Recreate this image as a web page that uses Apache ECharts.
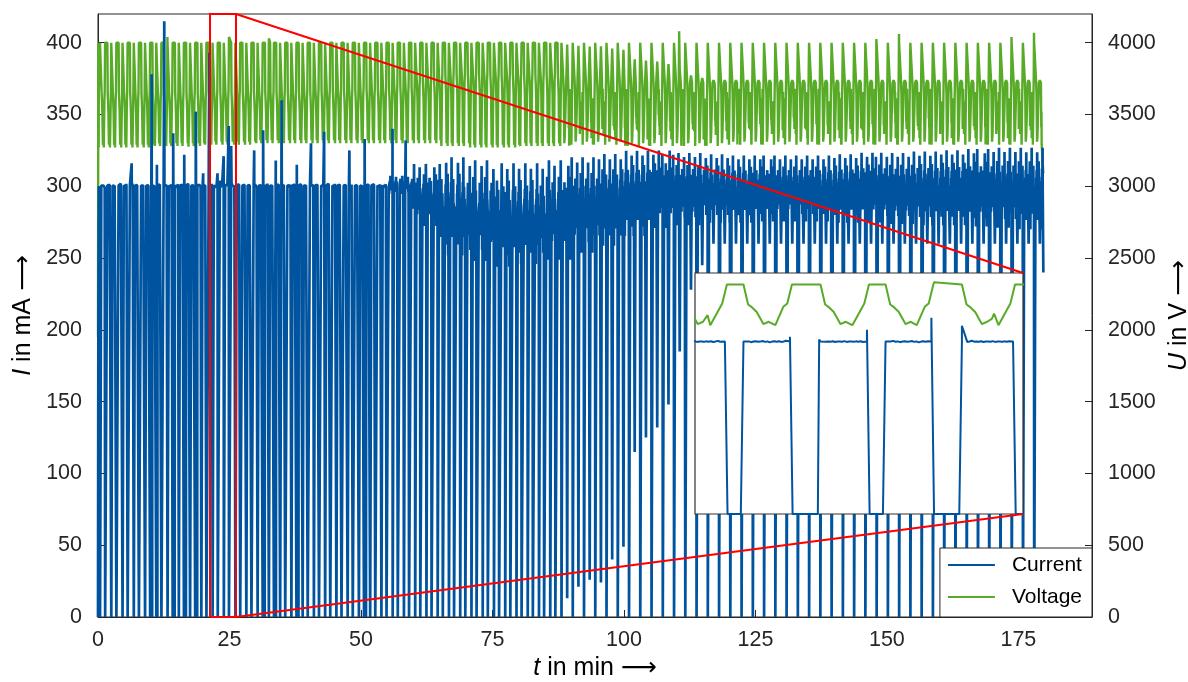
<!DOCTYPE html>
<html>
<head>
<meta charset="utf-8">
<script src="https://cdn.jsdelivr.net/npm/echarts@6/dist/echarts.min.js"></script>
<style>
html,body{margin:0;padding:0;background:#fff;}
#chart{width:1188px;height:682px;}
</style>
</head>
<body>
<div id="chart"></div>
<script>
// ---------------- values ----------------
const xTicks = [0, 25, 50, 75, 100, 125, 150, 175];
const iTicks = [0, 50, 100, 150, 200, 250, 300, 350, 400];
const uTicks = [0, 500, 1000, 1500, 2000, 2500, 3000, 3500, 4000];
const xMax = 189, iMax = 420, uMax = 4200;
const zoomT = [21.3, 26.24];          // time window shown in the inset (min)
const dataEnd = 179.7;

// current switch-off dips, type A (short) and type B (long): start times in min
const dipA = [0.35, 2.49, 4.63, 6.77, 8.91, 11.05, 13.19, 15.33, 17.47, 19.61,
  21.75, 23.89, 26.09, 28.17, 30.31, 32.45, 34.59, 36.73, 38.87, 41.01,
  43.15, 45.29, 47.43, 49.57, 51.71, 53.85, 55.99, 58.13, 60.27, 62.41,
  64.55, 66.69, 68.83, 70.97, 73.11, 75.25, 77.39, 79.53, 81.67, 83.81,
  85.95, 88.09, 90.23, 92.37, 94.51, 96.65, 98.79, 100.93, 103.07, 105.21,
  107.35, 109.49, 111.63, 113.77, 115.91, 118.05, 120.19, 122.33, 124.47, 126.61,
  128.75, 130.89, 133.03, 135.17, 137.31, 139.45, 141.59, 143.73, 145.87, 148.01,
  150.15, 152.29, 154.43, 156.57, 158.71, 160.85, 162.99, 165.13, 167.27, 169.41,
  171.55, 173.69, 175.83, 177.97];
const dipB = [1.32, 3.46, 5.6, 7.74, 9.88, 12.02, 14.16, 16.3, 18.44, 20.58,
  22.73, 24.86, 27.0, 29.14, 31.28, 33.42, 35.56, 37.7, 39.84, 41.98,
  44.12, 46.26, 48.4, 50.54, 52.68, 54.82, 56.96, 59.1, 61.24, 63.38,
  65.52, 67.66, 69.8, 71.94, 74.08, 76.22, 78.36, 80.5, 82.64, 84.78,
  86.92, 89.06, 91.2, 93.34, 95.48, 97.62, 99.76, 101.9, 104.04, 106.18,
  108.32, 110.46, 112.6, 114.74, 116.88, 119.02, 121.16, 123.3, 125.44, 127.58,
  129.72, 131.86, 134.0, 136.14, 138.28, 140.42, 142.56, 144.7, 146.84, 148.98,
  151.12, 153.26, 155.4, 157.54, 159.68, 161.82, 163.96, 166.1, 168.24, 170.38,
  172.52, 174.66, 176.8, 178.94];
// lowest current reached in each B dip (mA), 0 = full switch-off
const dipBMin = [0, 0, 0, 0, 0, 0, 0, 0, 0, 0,
  0, 0, 0, 0, 0, 0, 0, 0, 0, 0,
  0, 0, 0, 0, 0, 0, 0, 0, 0, 0,
  0, 0, 0, 0, 0, 0, 0, 0, 0, 0,
  0, 13, 21, 26, 24, 40, 49, 115, 125, 132,
  148, 185, 228, 245, 260, 260, 260, 260, 260, 260,
  260, 260, 260, 260, 260, 260, 260, 260, 260, 260,
  260, 260, 260, 260, 260, 260, 260, 260, 260, 260,
  260, 260, 260, 260];
const lenA = 0.28, lenB = 0.46, lenPartial = 0.3;   // dip durations (min)

// 5-minute bins: extent of the current plateau and of the voltage between pulses
const binStart = [0, 5, 10, 15, 20, 25, 30, 35, 40, 45, 50, 55, 60, 65, 70, 75, 80, 85,
  90, 95, 100, 105, 110, 115, 120, 125, 130, 135, 140, 145, 150, 155, 160, 165, 170, 175];
const iLo = [299, 299, 299, 299, 299, 299, 299, 299, 299, 299, 299, 294, 270, 248, 244, 240, 242, 245,
  250, 255, 262, 268, 270, 272, 272, 273, 273, 273, 272, 272, 271, 270, 270, 269, 268, 267];
const iHi = [302, 302, 302, 302, 302, 302, 302, 302, 302, 302, 302, 308, 318, 324, 322, 320, 320, 322,
  324, 326, 328, 328, 326, 325, 324, 324, 324, 324, 325, 326, 326, 327, 328, 329, 330, 330];
const uLo = [3250, 3250, 3260, 3260, 3270, 3270, 3280, 3280, 3280, 3280, 3280, 3280, 3280, 3260, 3250, 3250, 3260, 3260,
  3270, 3270, 3260, 3260, 3260, 3260, 3270, 3270, 3270, 3270, 3270, 3270, 3270, 3270, 3270, 3270, 3270, 3270];
const uHi = [3570, 3570, 3570, 3570, 3580, 3580, 3580, 3580, 3590, 3590, 3600, 3620, 3660, 3700, 3700, 3700, 3700, 3700,
  3700, 3700, 3700, 3700, 3700, 3700, 3700, 3700, 3700, 3700, 3700, 3700, 3700, 3700, 3700, 3700, 3700, 3700];

// isolated current spikes (min, mA)
const spikeT = [6.4, 10.2, 11.2, 12.6, 14.3, 16.4, 18.6, 20.0, 21.17, 22.73, 23.17, 23.89, 24.86, 25.32,
  29.7, 31.4, 33.8, 34.9, 37.8, 40.5, 43.0, 47.8, 50.7, 56.0, 58.5];
const spikeI = [316, 378, 315, 415, 337, 322, 352, 309, 393, 309, 304, 321, 342, 328,
  325, 339, 318, 360, 315, 330, 338, 325, 333, 340, 332];
// voltage overshoots above 4000 V
const peakT = [13.2, 24.9, 32.5, 110.5, 148.0, 152.3, 173.7, 177.97];
const peakU = [4040, 4040, 4030, 4080, 4025, 4060, 4040, 4070];
// switch-on and end of the record
const startT = [0, 0.06, 0.15], startI = [0, 188, 300], startU = [1950, 4000, 3650];
const tailT = [179.75], tailI = [240], tailU = [3090];
// fluctuation pattern inside the bands (fraction of the band extent)
const pat = [0.5, 0.35, 0.62, 0.44, 0.7, 0.28, 0.55, 0.9, 0.4, 0.6, 0.15, 0.52, 0.66, 0.38, 0.47, 0.8, 0.33, 0.58,
  0.05, 0.49, 0.63, 0.42, 0.72, 0.3, 0.54, 0.95, 0.45, 0.6, 0.36, 0.68, 0.22, 0.5, 0.57, 0.4, 0.75, 0.31, 0.53];

// ---------------- build the series ----------------
function binOf(t) {
  let b = 0;
  for (let k = 0; k < binStart.length; k++) if (binStart[k] <= t) b = k;
  return b;
}
const dips = [];
dipA.forEach(t => dips.push({ s: t, L: lenA, m: 0, type: 'A' }));
dipB.forEach((t, k) => dips.push({ s: t, L: dipBMin[k] > 0 ? lenPartial : lenB, m: dipBMin[k], type: 'B' }));
dips.sort((a, b) => a.s - b.s);
const cur = [], volt = [];
startT.forEach((t, k) => { cur.push([t, startI[k]]); volt.push([t, startU[k]]); });
let pc = 0, pv = 11;
const P = pat.length, STEP = 0.035;
function fillPlateau(from, to, vFrom, vTo) {
  for (let t = from; t < to; t += STEP) { const b = binOf(t); cur.push([t, iLo[b] + (iHi[b] - iLo[b]) * pat[pc++ % P]]); }
  for (let t = vFrom; t < vTo; t += STEP) { const b = binOf(t); volt.push([t, uLo[b] + (uHi[b] - uLo[b]) * pat[pv++ % P]]); }
}
fillPlateau(0.25, dips[0].s - 0.05, 0.5, dips[0].s - 0.25);
for (let j = 0; j < dips.length; j++) {
  const d = dips[j], s = d.s, e = s + d.L, b = binOf(s);
  const lvl = (iLo[b] + iHi[b]) / 2, lo = uLo[b], hi = uHi[b];
  let vStart;
  if (d.m === 0) {
    cur.push([s, lvl], [s + 0.04, 0], [e - 0.04, 0], [e, lvl]);
    volt.push([s - 0.22, lo + 20]);
    if (d.type === 'B') volt.push([s - 0.1, hi + 30]);
    volt.push([s - 0.04, hi + 90], [s + 0.03, 4000], [e, 4000], [e + 0.07, hi + 70],
      [e + 0.13, hi + 20], [e + 0.2, hi - 60], [e + 0.3, lo + 40], [e + 0.38, lo + 80]);
    vStart = e + 0.45;
  } else {
    cur.push([s, lvl], [s + d.L / 2, d.m], [e, lvl]);
    const pk = hi + (4000 - hi) * (1 - d.m / 300);
    volt.push([s - 0.04, hi + 20], [s + d.L / 2, pk], [e + 0.05, hi + 20]);
    vStart = e + 0.12;
  }
  const next = j + 1 < dips.length ? dips[j + 1].s : dataEnd;
  fillPlateau(e + 0.08, next - 0.04, vStart, next - 0.25);
}
tailT.forEach((t, k) => { cur.push([t, tailI[k]]); volt.push([t, tailU[k]]); });
spikeT.forEach((t, k) => cur.push([t, spikeI[k]]));
peakT.forEach((t, k) => volt.push([t, peakU[k]]));
cur.sort((a, b) => a[0] - b[0]);
volt.sort((a, b) => a[0] - b[0]);

// ---------------- chart ----------------
const FONT = '"Liberation Sans", Arial, "DejaVu Sans", sans-serif';
const INK = '#262626';
const BLUE = '#00549F', GREEN = '#57AB27', RED = '#FF0000';
const chart = echarts.init(document.getElementById('chart'));
const nameStyle = { fontSize: 25, color: '#000', fontFamily: FONT,
  rich: { it: { fontStyle: 'italic', fontSize: 25, color: '#000', fontFamily: FONT } } };
const labelStyle = { fontSize: 21.5, color: INK, fontFamily: FONT };
const option = {
  animation: false,
  grid: [
    { left: 98, right: 96, top: 14, bottom: 65, show: true, borderColor: INK, borderWidth: 1,
      backgroundColor: 'transparent', z: 0, outerBoundsMode: 'none', containLabel: false },
    { left: 695, top: 273, width: 328, height: 241, show: true, borderColor: '#333', borderWidth: 1.2,
      backgroundColor: '#fff', z: 5, outerBoundsMode: 'none', containLabel: false }
  ],
  xAxis: [
    { type: 'value', gridIndex: 0, min: 0, max: xMax, interval: 25,
      axisLine: { show: true, lineStyle: { color: INK, width: 1 } },
      axisTick: { show: true, inside: true, length: 7, lineStyle: { color: INK } },
      axisLabel: { ...labelStyle, margin: 12, showMaxLabel: false, formatter: v => xTicks.includes(v) ? String(v) : '' },
      splitLine: { show: false },
      name: '{it|t} in min ⟶', nameLocation: 'middle', nameGap: 35, nameTextStyle: nameStyle },
    { type: 'value', gridIndex: 1, min: zoomT[0], max: zoomT[1], show: false, splitLine: { show: false } }
  ],
  yAxis: [
    { type: 'value', gridIndex: 0, min: 0, max: iMax, interval: 50, position: 'left',
      axisLine: { show: true, lineStyle: { color: INK, width: 1 } },
      axisTick: { show: true, inside: true, length: 7, lineStyle: { color: INK } },
      axisLabel: { ...labelStyle, margin: 16, showMaxLabel: false, formatter: v => iTicks.includes(v) ? String(v) : '' },
      splitLine: { show: false },
      name: '{it|I} in mA ⟶', nameLocation: 'middle', nameGap: 55, nameRotate: 90, nameTextStyle: nameStyle },
    { type: 'value', gridIndex: 0, min: 0, max: uMax, interval: 500, position: 'right',
      axisLine: { show: true, lineStyle: { color: INK, width: 1 } },
      axisTick: { show: true, inside: true, length: 7, lineStyle: { color: INK } },
      axisLabel: { ...labelStyle, margin: 16, showMaxLabel: false, formatter: v => uTicks.includes(v) ? String(v) : '' },
      splitLine: { show: false },
      name: '{it|U} in V ⟶', nameLocation: 'middle', nameGap: 60, nameRotate: 90, nameTextStyle: nameStyle },
    { type: 'value', gridIndex: 1, min: 0, max: iMax, show: false, splitLine: { show: false } },
    { type: 'value', gridIndex: 1, min: 0, max: uMax, show: false, splitLine: { show: false } }
  ],
  legend: {
    orient: 'vertical', right: 96, bottom: 65,
    backgroundColor: '#fff', borderColor: INK, borderWidth: 1,
    padding: [5, 10, 8, 8], itemGap: 8, itemWidth: 47, itemHeight: 2,
    textStyle: { fontSize: 21, color: '#000', fontFamily: FONT, lineHeight: 24, padding: [0, 0, 0, 12] },
    data: [{ name: 'Current', icon: 'rect' }, { name: 'Voltage', icon: 'rect' }], z: 20
  },
  series: [
    { name: 'Voltage', type: 'line', xAxisIndex: 0, yAxisIndex: 1, data: volt, symbol: 'none',
      lineStyle: { color: GREEN, width: 2.4 }, itemStyle: { color: GREEN }, z: 2, silent: true },
    { name: 'Current', type: 'line', xAxisIndex: 0, yAxisIndex: 0, data: cur, symbol: 'none',
      lineStyle: { color: BLUE, width: 2.7 }, itemStyle: { color: BLUE }, z: 3, silent: true },
    { name: 'Voltage', type: 'line', xAxisIndex: 1, yAxisIndex: 3, data: volt, symbol: 'none',
      lineStyle: { color: GREEN, width: 2 }, itemStyle: { color: GREEN }, z: 6, silent: true },
    { name: 'Current', type: 'line', xAxisIndex: 1, yAxisIndex: 2, data: cur, symbol: 'none',
      lineStyle: { color: BLUE, width: 2 }, itemStyle: { color: BLUE }, z: 7, silent: true }
  ]
};
chart.setOption(option);

// zoom frame and connector lines, placed through the axes' own conversions
const m = (t, v) => chart.convertToPixel({ xAxisIndex: 0, yAxisIndex: 0 }, [t, v]);
const n = (t, v) => chart.convertToPixel({ xAxisIndex: 1, yAxisIndex: 2 }, [t, v]);
const a0 = m(zoomT[0], 0), a1 = m(zoomT[0], iMax), b0 = m(zoomT[1], 0), b1 = m(zoomT[1], iMax);
const c0 = n(zoomT[1], 0), c1 = n(zoomT[1], iMax);
const red = { stroke: RED, lineWidth: 2, fill: null };
chart.setOption({
  graphic: [
    { type: 'polyline', z: 50, silent: true, shape: { points: [a0, a1, b1, b0, a0] }, style: red },
    { type: 'line', z: 50, silent: true, shape: { x1: b1[0], y1: b1[1], x2: c1[0], y2: c1[1] }, style: red },
    { type: 'line', z: 50, silent: true, shape: { x1: b0[0], y1: b0[1], x2: c0[0], y2: c0[1] }, style: red }
  ]
});
</script>
</body>
</html>
